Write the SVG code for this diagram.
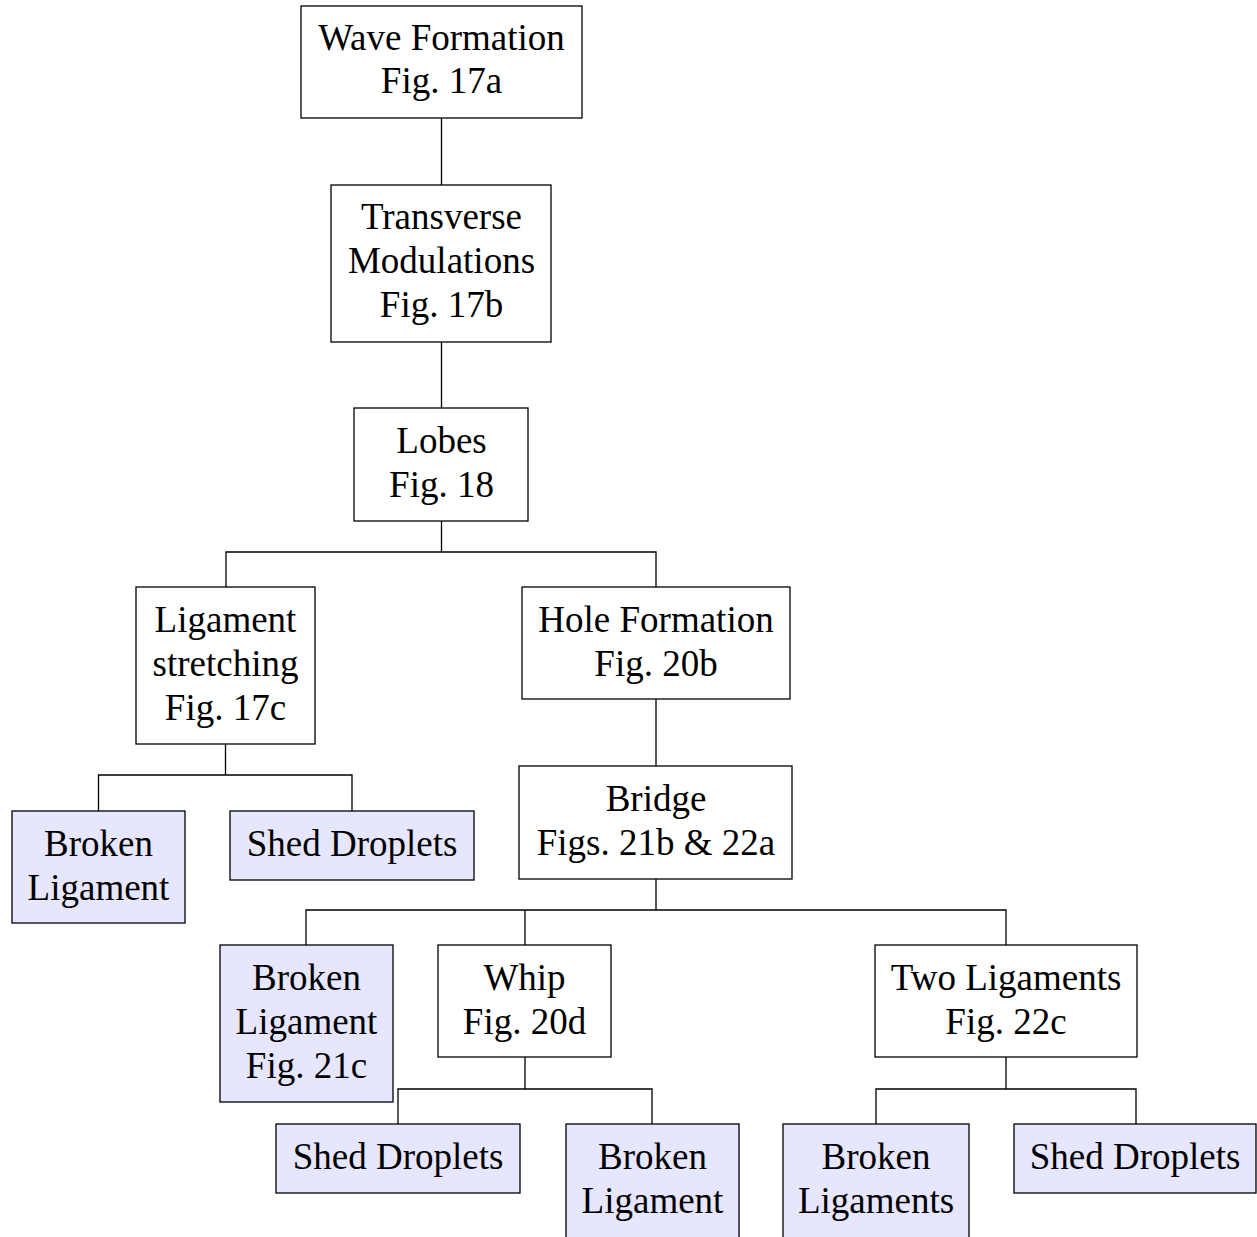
<svg xmlns="http://www.w3.org/2000/svg" width="1257" height="1237" viewBox="0 0 1257 1237">
<style>
.box{fill:#ffffff;stroke:#000;stroke-width:1.3}
.leaf{fill:#e6e6ff;stroke:#000;stroke-width:1.3}
text{font-family:"Liberation Serif","DejaVu Serif",serif;font-size:37px;fill:#000;text-anchor:middle}
.conn{fill:none;stroke:#000;stroke-width:1.3}
</style>
<rect width="1257" height="1237" fill="#fff"/>
<g id="connectors">
<path class="conn" d="M441.5 118V185M441.5 342V408"/>
<path class="conn" d="M441.5 521V552M226 587V552H656V587"/>
<path class="conn" d="M225.5 744V775M98.5 811V775H352V811"/>
<path class="conn" d="M656 699V766"/>
<path class="conn" d="M656 879V910M306 945V910H1006V945M525 910V945"/>
<path class="conn" d="M525 1057V1089M398 1124V1089H652V1124"/>
<path class="conn" d="M1006 1057V1089M876 1124V1089H1136V1124"/>
</g>
<g id="wave">
<rect class="box" x="301" y="6" width="281" height="112"/>
<text x="441.5" y="50">Wave Formation</text>
<text x="441.5" y="93">Fig. 17a</text>
</g>
<g id="transverse">
<rect class="box" x="331" y="185" width="220" height="157"/>
<text x="441.5" y="229">Transverse</text>
<text x="441.5" y="273">Modulations</text>
<text x="441.5" y="317">Fig. 17b</text>
</g>
<g id="lobes">
<rect class="box" x="354" y="408" width="174" height="113"/>
<text x="441.5" y="453">Lobes</text>
<text x="441.5" y="497">Fig. 18</text>
</g>
<g id="ligament-stretching">
<rect class="box" x="136" y="587" width="179" height="157"/>
<text x="225.5" y="632">Ligament</text>
<text x="225.5" y="676">stretching</text>
<text x="225.5" y="720">Fig. 17c</text>
</g>
<g id="hole">
<rect class="box" x="522" y="587" width="268" height="112"/>
<text x="656" y="632">Hole Formation</text>
<text x="656" y="676">Fig. 20b</text>
</g>
<g id="broken1">
<rect class="leaf" x="12" y="811" width="173" height="112"/>
<text x="98.5" y="856">Broken</text>
<text x="98.5" y="900">Ligament</text>
</g>
<g id="shed1">
<rect class="leaf" x="230" y="811" width="244" height="69"/>
<text x="352" y="856">Shed Droplets</text>
</g>
<g id="bridge">
<rect class="box" x="519" y="766" width="273" height="113"/>
<text x="656" y="811">Bridge</text>
<text x="656" y="855">Figs. 21b &amp; 22a</text>
</g>
<g id="broken2">
<rect class="leaf" x="220" y="945" width="173" height="157"/>
<text x="306.5" y="990">Broken</text>
<text x="306.5" y="1034">Ligament</text>
<text x="306.5" y="1078">Fig. 21c</text>
</g>
<g id="whip">
<rect class="box" x="438" y="945" width="173" height="112"/>
<text x="524.5" y="990">Whip</text>
<text x="524.5" y="1034">Fig. 20d</text>
</g>
<g id="two-ligaments">
<rect class="box" x="875" y="945" width="262" height="112"/>
<text x="1006" y="990">Two Ligaments</text>
<text x="1006" y="1034">Fig. 22c</text>
</g>
<g id="shed2">
<rect class="leaf" x="276" y="1124" width="244" height="69"/>
<text x="398" y="1169">Shed Droplets</text>
</g>
<g id="broken3">
<rect class="leaf" x="566" y="1124" width="173" height="114"/>
<text x="652.5" y="1169">Broken</text>
<text x="652.5" y="1213">Ligament</text>
</g>
<g id="broken4">
<rect class="leaf" x="783" y="1124" width="186" height="114"/>
<text x="876" y="1169">Broken</text>
<text x="876" y="1213">Ligaments</text>
</g>
<g id="shed3">
<rect class="leaf" x="1014" y="1124" width="242" height="69"/>
<text x="1135" y="1169">Shed Droplets</text>
</g>
</svg>
